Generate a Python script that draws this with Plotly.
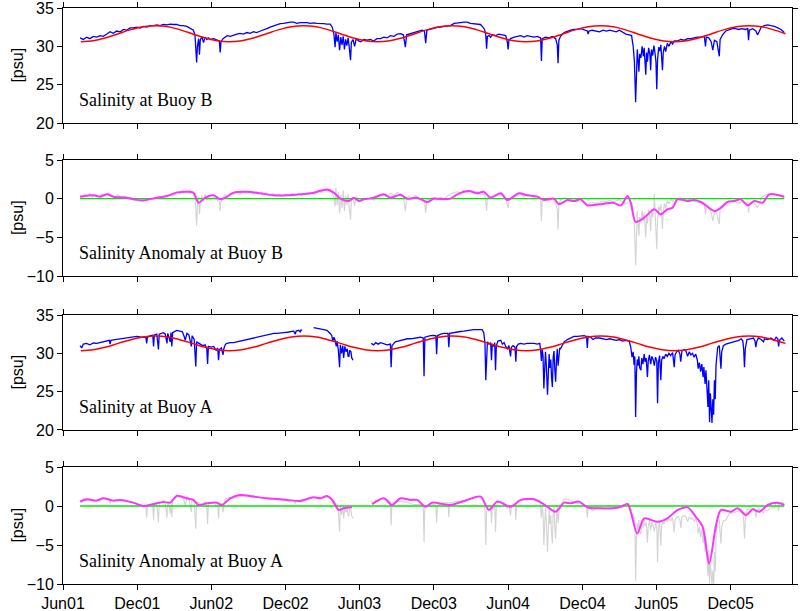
import numpy as np
import pandas as pd
import plotly.graph_objects as go

t0 = pd.Timestamp("2001-06-01")  # day 0 of all day arrays

tick_dates = pd.date_range("2001-06-01", periods=10, freq="6MS")
tick_labels = ["Jun01", "Dec01", "Jun02", "Dec02", "Jun03",
               "Dec03", "Jun04", "Dec04", "Jun05", "Dec05"]

# monthly climatology (mid-month values, Jan..Dec)
clim_b = [32.7, 32.56, 32.18, 31.65, 31.12, 30.74, 30.6, 30.74, 31.12, 31.65, 32.18, 32.56]
clim_a = [32.25, 32.12, 31.78, 31.3, 30.82, 30.48, 30.35, 30.48, 30.82, 31.3, 31.78, 32.12]

# ---- Buoy B salinity
sal_b_day = [42, 50, 58, 66, 75, 83, 91, 99, 108, 116, 124, 132, 141, 149, 157, 165, 173, 182, 190, 198,
             206, 215, 223, 231, 239, 247, 256, 264, 272, 280, 288, 296, 305, 313, 321, 325, 327, 329, 331, 334,
             336, 338, 342, 346, 350, 354, 358, 362, 371, 379, 385, 387, 389, 394, 404, 412, 420, 428, 436, 444,
             453, 461, 469, 477, 486, 494, 502, 510, 519, 527, 535, 543, 552, 560, 568, 576, 584, 592, 601, 609,
             617, 625, 634, 642, 650, 658, 663, 667, 670, 672, 675, 678, 681, 684, 687, 690, 693, 696, 699, 702,
             705, 708, 710, 714, 718, 722, 728, 733, 741, 749, 757, 765, 773, 782, 790, 798, 806, 815, 823, 831,
             838, 843, 846, 852, 860, 868, 876, 884, 890, 893, 896, 905, 913, 922, 930, 938, 946, 954, 963, 971,
             979, 987, 995, 1003, 1011, 1020, 1028, 1034, 1038, 1041, 1043, 1045, 1049, 1053, 1057, 1065, 1073, 1082, 1090, 1094,
             1096, 1098, 1102, 1111, 1119, 1127, 1135, 1143, 1151, 1160, 1168, 1176, 1178, 1180, 1188, 1196, 1205, 1213, 1217, 1219,
             1221, 1225, 1234, 1242, 1250, 1258, 1266, 1275, 1283, 1291, 1293, 1295, 1303, 1311, 1321, 1330, 1338, 1346, 1354, 1362,
             1370, 1378, 1386, 1394, 1400, 1404, 1407, 1410, 1412, 1414, 1416, 1418, 1420, 1423, 1426, 1429, 1431, 1435, 1437, 1439,
             1442, 1445, 1447, 1449, 1452, 1455, 1458, 1460, 1462, 1464, 1467, 1470, 1472, 1474, 1476, 1478, 1481, 1484, 1488, 1492,
             1497, 1501, 1505, 1513, 1521, 1530, 1538, 1546, 1554, 1562, 1571, 1579, 1582, 1584, 1590, 1596, 1600, 1604, 1610, 1614,
             1616, 1618, 1624, 1632, 1640, 1648, 1656, 1664, 1672, 1680, 1686, 1688, 1690, 1698, 1706, 1710, 1714, 1719, 1727, 1735,
             1743, 1752, 1760, 1768, 1776]
sal_b = [31.1, 30.9, 31.2, 31.0, 31.3, 31.2, 31.4, 31.3, 31.6, 31.9, 31.7, 32.0, 31.9, 32.2, 32.1, 32.4, 32.4, 32.5, 32.4, 32.6,
         32.5, 32.7, 32.7, 32.8, 32.7, 32.85, 32.8, 32.9, 32.85, 32.85, 32.7, 32.7, 32.6, 32.4, 32.1, 31.5, 29.5, 27.9, 30.0, 31.0,
         28.9, 30.8, 31.3, 30.5, 31.2, 30.9, 31.1, 30.9, 31.0, 30.8, 30.7, 29.2, 30.6, 31.0, 31.4, 31.3, 31.5, 31.6, 31.7, 31.6,
         31.8, 31.7, 31.9, 31.8, 32.0, 32.1, 32.3, 32.5, 32.7, 32.8, 32.95, 33.0, 33.1, 33.15, 33.15, 33.0, 33.1, 33.1, 33.1, 33.0,
         33.05, 33.0, 33.0, 32.95, 32.9, 32.9, 32.5, 31.6, 29.9, 31.8, 30.6, 31.5, 29.5, 31.2, 30.2, 31.3, 29.6, 30.9, 30.1, 31.1,
         29.8, 28.2, 30.5, 30.9, 30.0, 31.0, 30.7, 30.6, 30.9, 30.8, 30.9, 30.7, 31.0, 31.0, 31.2, 31.1, 31.4, 31.3, 31.6, 31.65,
         31.5, 29.9, 31.5, 31.6, 31.8, 31.9, 32.0, 32.1, 32.0, 30.4, 32.1, 32.2, 32.35, 32.5, 32.5, 32.6, 32.7, 32.7, 33.0, 33.1,
         33.1, 33.15, 33.15, 33.0, 32.95, 32.9, 32.85, 32.5, 32.2, 31.5, 29.7, 31.3, 31.4, 31.2, 31.5, 31.4, 31.6, 31.5, 31.4, 30.6,
         29.6, 30.8, 31.0, 31.2, 31.3, 31.4, 31.2, 31.4, 31.3, 31.2, 31.3, 31.1, 28.1, 31.0, 31.2, 31.1, 31.3, 31.0, 30.2, 27.8,
         30.8, 31.3, 31.8, 32.0, 32.1, 32.2, 32.2, 32.3, 32.2, 32.0, 31.6, 32.0, 32.1, 32.0, 31.9, 32.1, 32.0, 32.1, 32.0, 31.9,
         32.1, 31.8, 31.6, 31.5, 31.4, 30.0, 28.0, 22.7, 27.5, 29.6, 28.2, 26.7, 29.0, 28.5, 30.0, 28.7, 29.8, 26.3, 29.2, 28.0,
         29.8, 29.0, 26.9, 29.6, 28.8, 30.1, 29.0, 28.0, 24.4, 28.3, 29.9, 29.4, 30.2, 28.8, 26.9, 29.2, 30.0, 29.3, 30.4, 30.0,
         30.6, 30.3, 30.7, 30.7, 30.9, 30.8, 31.0, 31.0, 31.1, 31.2, 31.2, 31.3, 30.0, 31.2, 31.1, 30.6, 29.5, 30.8, 30.6, 29.5,
         28.7, 30.9, 31.5, 32.0, 32.2, 32.3, 32.3, 32.2, 32.3, 32.2, 32.3, 30.8, 32.1, 32.3, 32.0, 31.5, 31.9, 32.5, 32.7, 32.8,
         32.7, 32.6, 32.4, 32.2, 31.8]

# ---- Buoy B anomaly (raw)
anom_b_day = [42, 48, 54, 60, 66, 72, 80, 88, 96, 104, 112, 120, 128, 136, 144, 152, 160, 168, 176, 184,
              192, 200, 208, 216, 224, 232, 240, 248, 256, 264, 272, 280, 288, 296, 304, 312, 320, 325, 327, 329,
              331, 334, 336, 338, 342, 346, 350, 354, 358, 364, 370, 376, 382, 385, 387, 389, 394, 400, 406, 412,
              420, 428, 436, 444, 452, 460, 468, 476, 484, 492, 500, 508, 516, 524, 532, 540, 548, 556, 564, 572,
              580, 588, 596, 604, 612, 620, 628, 636, 644, 652, 658, 663, 667, 670, 672, 675, 678, 681, 684, 687,
              690, 693, 696, 699, 702, 705, 708, 710, 714, 718, 722, 728, 733, 741, 749, 757, 765, 773, 782, 790,
              798, 806, 815, 823, 831, 838, 843, 846, 852, 860, 868, 876, 884, 890, 893, 896, 905, 913, 922, 930,
              938, 946, 954, 963, 971, 979, 987, 995, 1003, 1011, 1020, 1028, 1034, 1038, 1041, 1043, 1045, 1049, 1053, 1057,
              1065, 1073, 1082, 1090, 1094, 1096, 1098, 1102, 1111, 1119, 1127, 1135, 1143, 1151, 1160, 1168, 1176, 1178, 1180, 1188,
              1196, 1205, 1213, 1217, 1219, 1221, 1225, 1234, 1242, 1250, 1258, 1266, 1275, 1283, 1291, 1293, 1295, 1303, 1311, 1321,
              1330, 1338, 1346, 1354, 1362, 1370, 1378, 1386, 1394, 1400, 1404, 1407, 1410, 1412, 1414, 1416, 1418, 1420, 1423, 1426,
              1429, 1431, 1435, 1437, 1439, 1442, 1445, 1447, 1449, 1452, 1455, 1456, 1458, 1460, 1462, 1464, 1467, 1470, 1472, 1474,
              1476, 1478, 1481, 1484, 1488, 1492, 1497, 1501, 1505, 1513, 1521, 1530, 1538, 1546, 1554, 1562, 1571, 1579, 1582, 1584,
              1590, 1596, 1600, 1604, 1610, 1614, 1616, 1618, 1624, 1632, 1640, 1648, 1656, 1664, 1672, 1680, 1686, 1688, 1690, 1698,
              1706, 1710, 1714, 1719, 1727, 1735, 1743, 1752, 1760, 1768, 1776]
anom_b = [0.5, 0.1, 0.6, 0.3, 0.7, 0.2, 0.5, 0.3, 0.6, 0.3, 0.8, 0.4, 0.2, 0.5, 0.1, 0.3, 0.1, 0.2, -0.2, 0.0,
          -0.3, 0.0, -0.2, 0.1, -0.1, 0.2, 0.0, 0.3, 0.2, 0.5, 0.4, 0.9, 0.7, 1.0, 0.8, 1.1, 0.7, 0.2, -1.5, -3.5,
          -1.0, 0.2, -2.0, -0.5, 0.4, -0.4, 0.6, -0.2, 0.3, -0.1, 0.2, 0.0, -0.2, -0.4, -1.6, -0.4, 0.1, 0.5, 0.2, 0.7,
          0.5, 0.9, 0.6, 0.9, 0.7, 1.0, 0.6, 0.9, 0.7, 0.5, 0.8, 0.4, 0.7, 0.5, 0.6, 0.3, 0.6, 0.4, 0.7, 0.5,
          0.6, 0.4, 0.7, 0.5, 0.8, 0.6, 1.0, 0.8, 1.2, 1.0, 1.3, 0.6, 0.2, -1.0, 1.4, -0.8, 0.9, -1.9, 0.5, -1.2,
          1.1, -1.6, 0.3, -0.8, 0.6, -1.2, -2.7, -0.4, 0.2, -0.9, 0.3, -0.2, -0.3, 0.1, -0.1, 0.1, -0.2, 0.3, 0.2, 0.5,
          0.2, 0.7, 0.4, 0.8, 0.6, 0.2, -1.6, 0.1, 0.3, 0.1, 0.4, -0.1, 0.1, -0.3, -1.8, -0.2, 0.0, 0.2, -0.1, 0.2,
          0.0, 0.3, 0.6, 0.8, 0.9, 0.7, 1.1, 0.8, 1.0, 0.7, 0.9, 0.6, 0.5, 0.6, -0.3, -1.6, 0.1, 0.3, 0.0, 0.4,
          0.5, 0.7, 0.4, 0.1, -0.8, -1.2, -0.4, 0.0, 0.3, 0.5, 0.6, 0.3, 0.6, 0.4, 0.2, 0.3, 0.0, -2.9, -0.1, 0.0,
          -0.3, -0.1, -0.6, -1.4, -4.0, -0.7, -0.2, 0.1, 0.0, -0.3, -0.2, -0.4, -0.3, -0.5, -0.7, -1.0, -0.6, -0.5, -0.6, -0.5,
          -0.3, -0.4, -0.2, -0.4, -0.3, -0.1, -0.5, -0.6, -0.5, -0.5, -1.8, -3.5, -8.6, -3.9, -1.6, -3.2, -4.8, -2.4, -3.1, -1.5,
          -2.9, -1.8, -5.0, -2.0, -3.2, -1.4, -2.3, -4.2, -1.6, -2.4, -1.1, 0.6, -2.2, -3.2, -6.5, -2.8, -1.0, -1.6, -0.7, -2.1,
          -3.9, -1.6, -0.6, -1.3, -0.2, -0.7, 0.0, -0.4, 0.0, -0.1, 0.1, -0.1, 0.0, -0.2, -0.3, -0.4, -0.6, -0.7, -2.0, -0.9,
          -1.2, -1.8, -2.9, -1.7, -2.0, -2.9, -3.3, -1.3, -0.9, -0.5, -0.4, -0.3, -0.4, -0.6, -0.4, -0.6, -0.5, -1.8, -0.6, -0.4,
          -0.8, -1.2, -0.7, 0.1, 0.4, 0.6, 0.5, 0.6, 0.4, 0.3, 0.2]

# ---- Buoy B smoothed anomaly
smooth_b_day = [42, 75, 91, 108, 124, 157, 173, 198, 223, 256, 280, 305, 321, 334, 350, 371, 387, 404, 420, 453,
                486, 519, 552, 584, 617, 650, 667, 683, 704, 716, 728, 741, 765, 790, 806, 831, 848, 872, 897, 913,
                938, 954, 971, 1000, 1020, 1036, 1053, 1078, 1094, 1123, 1143, 1168, 1184, 1209, 1221, 1242, 1258, 1275, 1291, 1321,
                1354, 1374, 1390, 1398, 1410, 1431, 1456, 1472, 1488, 1501, 1513, 1538, 1554, 1571, 1604, 1620, 1636, 1653, 1669, 1686,
                1702, 1723, 1739, 1776]
smooth_b = [0.26, 0.43, 0.26, 0.56, 0.26, 0.13, -0.09, -0.22, 0.04, 0.34, 0.78, 0.9, 0.78, -0.52, 0.13, 0.43, -0.09, 0.26, 0.78, 0.9,
            0.69, 0.43, 0.43, 0.56, 0.78, 1.2, 0.78, 0.0, -0.3, 0.13, -0.3, -0.09, 0.13, 0.56, 0.13, 0.5, 0.0, 0.13, -0.43, 0.0,
            -0.09, 0.0, 0.56, 0.99, 0.69, 0.9, 0.13, 0.69, -0.17, 0.69, 0.43, 0.26, -0.17, 0.0, -0.73, -0.17, -0.3, -0.09, -0.86, -0.73,
            -0.52, -0.86, 0.34, -0.52, -3.0, -2.46, -1.38, -2.03, -1.38, -1.16, -0.09, -0.3, -0.17, -0.43, -1.6, -1.16, -0.43, -0.3, -0.09, -0.86,
            -0.3, -0.52, 0.56, 0.26]

# ---- Buoy A salinity (None = no data)
sal_a_day = [42, 46, 50, 58, 66, 75, 83, 91, 99, 108, 114, 116, 118, 124, 132, 141, 149, 157, 165, 173,
             182, 190, 198, 204, 206, 208, 215, 221, 223, 225, 231, 235, 237, 243, 247, 252, 256, 258, 262, 264,
             266, 268, 270, 276, 280, 288, 294, 299, 301, 305, 310, 316, 318, 323, 327, 329, 334, 338, 344, 350,
             354, 356, 358, 365, 371, 377, 381, 383, 385, 390, 394, 396, 400, 404, 412, 420, 428, 436, 444, 453,
             461, 469, 477, 486, 494, 502, 510, 519, 527, 535, 543, 552, 560, 568, 572, 574, 580, 584, 586, 589,
             600, 617, 625, 634, 642, 650, 655, 658, 662, 664, 667, 670, 673, 675, 678, 681, 683, 686, 689, 691,
             694, 697, 700, 702, 704, 706, 709, 711, 714, 735, 759, 765, 770, 776, 782, 790, 798, 806, 808, 810,
             818, 825, 831, 840, 848, 856, 864, 872, 880, 887, 889, 891, 897, 905, 913, 918, 920, 922, 930, 938,
             948, 950, 952, 960, 971, 979, 987, 995, 1003, 1011, 1020, 1028, 1032, 1036, 1039, 1041, 1043, 1045, 1049, 1053,
             1055, 1057, 1061, 1063, 1065, 1067, 1071, 1078, 1082, 1086, 1090, 1094, 1098, 1102, 1104, 1108, 1113, 1115, 1117, 1121,
             1127, 1135, 1143, 1151, 1160, 1168, 1174, 1176, 1178, 1180, 1182, 1184, 1186, 1188, 1190, 1193, 1195, 1197, 1199, 1201,
             1203, 1205, 1207, 1209, 1211, 1213, 1215, 1217, 1219, 1221, 1223, 1225, 1234, 1242, 1250, 1258, 1266, 1275, 1283, 1289,
             1291, 1293, 1299, 1305, 1311, 1321, 1330, 1338, 1346, 1354, 1362, 1370, 1378, 1386, 1394, 1398, 1401, 1404, 1406, 1408,
             1410, 1412, 1414, 1416, 1418, 1420, 1423, 1425, 1428, 1431, 1433, 1436, 1439, 1441, 1444, 1447, 1450, 1453, 1456, 1459,
             1462, 1464, 1466, 1469, 1472, 1474, 1477, 1480, 1484, 1488, 1492, 1496, 1501, 1505, 1507, 1511, 1515, 1519, 1521, 1524,
             1530, 1534, 1538, 1542, 1546, 1550, 1554, 1558, 1562, 1564, 1567, 1570, 1573, 1576, 1578, 1581, 1583, 1586, 1588, 1590,
             1592, 1594, 1596, 1598, 1600, 1602, 1604, 1606, 1608, 1610, 1612, 1616, 1618, 1620, 1622, 1626, 1632, 1640, 1648, 1656,
             1664, 1670, 1674, 1676, 1678, 1680, 1684, 1692, 1700, 1704, 1706, 1708, 1712, 1719, 1725, 1727, 1735, 1743, 1751, 1756,
             1760, 1762, 1764, 1770, 1776]
sal_a = [31.0, 30.7, 31.2, 31.3, 31.1, 31.35, 31.3, 31.4, 31.5, 31.6, 31.7, 31.2, 31.7, 31.75, 31.8, 31.85, 31.9, 32.0, 32.0, 32.1,
         32.2, 32.15, 32.1, 32.1, 31.3, 32.1, 32.3, 32.35, 30.9, 32.4, 32.5, 30.5, 32.5, 32.6, 32.7, 32.5, 31.3, 32.6, 32.0, 31.5,
         32.7, 30.9, 32.7, 32.9, 33.0, 32.9, 32.8, 32.1, 31.7, 32.6, 32.4, 30.9, 32.3, 31.8, 28.3, 31.5, 31.3, 31.2, 31.0, 31.1,
         30.6, 28.6, 30.9, 30.8, 30.9, 30.4, 30.7, 29.1, 30.5, 30.7, 29.8, 30.6, 31.2, 31.3, 31.4, 31.4, 31.5, 31.5, 31.6, 31.8,
         31.9, 32.0, 32.1, 32.2, 32.3, 32.4, 32.5, 32.6, 32.6, 32.7, 32.7, 32.75, 32.8, 32.9, 32.5, 32.9, 33.0, 32.8, 33.05, 33.0,
         None, 33.35, 33.3, 33.2, 33.1, 33.0, 32.8, 32.6, 32.3, 31.6, 32.1, 31.7, 30.9, 31.6, 30.4, 28.2, 31.1, 30.0, 31.0, 29.4,
         30.9, 30.2, 30.6, 29.6, 29.6, 30.4, 30.2, 29.4, 29.1, None, 31.3, 31.1, 31.4, 31.2, 31.4, 31.3, 31.1, 31.2, 28.2, 31.0,
         31.5, 31.6, 31.7, 31.8, 31.9, 31.9, 31.95, 32.0, 32.1, 32.0, 27.0, 32.1, 32.2, 32.3, 32.35, 32.3, 29.9, 32.3, 32.5, 32.6,
         32.6, 30.8, 32.6, 32.7, 32.8, 32.85, 32.9, 33.0, 33.05, 33.1, 33.1, 33.15, 33.1, 32.7, 31.3, 26.5, 30.5, 31.5, 31.2, 31.4,
         29.1, 31.2, 30.9, 31.4, 27.8, 31.0, 31.6, 31.7, 31.2, 31.4, 30.9, 30.6, 31.0, 29.6, 30.8, 31.0, 30.8, 28.9, 30.9, 31.2,
         31.3, 31.2, 31.3, 31.3, 31.3, 31.2, 31.3, 30.4, 29.0, 30.5, 29.6, 25.4, 28.8, 30.2, 28.5, 24.6, 27.3, 29.9, 28.1, 29.2,
         26.8, 25.6, 29.5, 30.3, 27.9, 26.3, 29.0, 30.6, 28.4, 30.0, 30.7, 30.6, 31.5, 31.8, 32.0, 32.2, 32.2, 32.3, 32.3, 32.2,
         30.7, 32.2, 32.1, 31.8, 32.0, 32.0, 31.9, 31.8, 31.9, 31.8, 31.7, 31.8, 31.6, 31.7, 31.6, 30.8, 29.5, 30.2, 28.5, 29.6,
         21.7, 27.5, 29.2, 28.4, 29.6, 28.1, 27.8, 29.4, 28.6, 29.9, 28.9, 29.4, 26.9, 29.0, 29.8, 28.6, 29.6, 29.2, 28.4, 29.5,
         29.0, 23.5, 28.8, 29.7, 26.5, 29.1, 29.6, 29.3, 29.9, 29.6, 30.0, 29.7, 30.1, 28.2, 29.8, 30.2, 30.4, 29.9, 28.9, 30.3,
         30.5, 30.3, 29.6, 30.2, 29.8, 30.0, 29.5, 29.9, 29.1, 28.0, 28.8, 27.6, 28.6, 26.9, 28.2, 26.0, 27.8, 25.1, 23.0, 26.5,
         21.0, 24.8, 22.5, 20.9, 24.0, 22.0, 26.5, 24.0, 28.5, 30.6, 30.8, 31.0, 29.4, 28.0, 30.2, 31.0, 31.2, 31.3, 31.4, 31.5,
         31.7, 31.9, 31.6, 30.5, 28.2, 30.6, 31.8, 31.9, 32.0, 31.6, 30.8, 31.5, 32.0, 31.8, 31.5, 31.9, 31.8, 32.0, 31.7, 32.1,
         31.9, 30.9, 31.7, 32.0, 31.6]

# ---- Buoy A anomaly (raw), same sampling days as the salinity record
anom_a_day = sal_a_day
anom_a = [0.8, 0.4, 1.0, 0.7, 0.9, 0.6, 0.8, 0.6, 1.0, 0.8, 0.9, 0.3, 0.8, 0.6, 0.8, 0.7, 0.8, 0.6, 0.5, 0.4,
          0.3, 0.1, -0.1, 0.0, -1.5, 0.1, 0.2, 0.1, -1.8, 0.2, 0.3, -2.1, 0.3, 0.5, 0.5, 0.3, -1.5, 0.4, 0.0, -1.0,
          0.6, -1.4, 0.7, 1.2, 1.4, 1.2, 1.3, 0.5, 0.0, 1.2, 1.0, -0.8, 1.0, 0.6, -2.9, 0.5, 0.4, 0.4, 0.2, 0.5,
          0.0, -2.3, 0.3, 0.4, 0.5, 0.0, 0.3, -1.6, 0.1, 0.3, -0.8, 0.2, 0.9, 1.0, 1.1, 1.0, 1.1, 1.2, 1.3, 1.3,
          1.4, 1.3, 1.2, 1.1, 1.0, 1.0, 0.9, 0.9, 0.8, 0.8, 0.7, 0.8, 0.7, 0.7, 0.3, 0.7, 0.7, 0.5, 0.8, 0.7,
          None, 1.1, 1.1, 1.0, 1.1, 1.2, 1.1, 1.0, 0.9, 0.2, 0.8, 0.5, -0.3, 0.4, -0.8, -3.3, 0.0, -1.1, -0.1, -1.6,
          -0.2, -0.8, -0.3, -1.3, -1.2, -0.4, -0.5, -1.3, -1.6, None, 0.6, 0.4, 0.8, 0.6, 1.0, 1.0, 0.8, 0.6, -2.5, 0.3,
          0.6, 0.6, 0.6, 0.5, 0.5, 0.3, 0.2, 0.2, 0.2, 0.0, -4.6, 0.1, 0.1, 0.1, 0.2, 0.1, -2.1, 0.1, 0.3, 0.4,
          0.4, -1.4, 0.4, 0.5, 0.6, 0.6, 0.7, 0.8, 0.9, 1.0, 1.1, 1.2, 1.1, 0.9, -0.4, -5.0, -1.0, 0.1, -0.2, 0.1,
          -2.2, 0.0, -0.3, 0.3, -3.3, -0.1, 0.6, 0.7, 0.3, 0.5, 0.0, -0.3, 0.2, -1.2, 0.0, 0.3, 0.1, -1.8, 0.2, 0.6,
          0.8, 0.8, 0.9, 1.0, 0.9, 0.7, 0.8, 0.0, -1.5, 0.0, -0.9, -5.0, -1.6, -0.2, -1.9, -5.9, -3.1, -0.5, -2.3, -1.2,
          -3.6, -4.8, -0.9, -0.1, -2.6, -4.2, -1.5, 0.1, -2.2, -0.5, 0.2, 0.1, 0.9, 0.9, 0.7, 0.6, 0.3, 0.3, 0.2, 0.0,
          -1.5, -0.1, -0.3, -0.6, -0.3, -0.2, -0.2, -0.3, -0.1, -0.2, -0.2, 0.0, -0.1, 0.2, 0.3, -0.3, -1.5, -0.9, -2.5, -1.4,
          -9.6, -3.8, -2.2, -3.0, -1.8, -3.3, -3.6, -2.0, -2.8, -1.5, -2.6, -2.1, -4.7, -2.6, -1.9, -3.1, -2.1, -2.5, -3.3, -2.2,
          -2.7, -7.2, -2.9, -2.0, -5.1, -2.5, -2.0, -2.3, -1.7, -2.0, -1.6, -1.9, -1.5, -3.4, -1.8, -1.4, -1.3, -1.8, -2.8, -1.4,
          -1.2, -1.4, -2.0, -1.4, -1.7, -1.5, -2.0, -1.6, -2.4, -3.5, -2.7, -4.0, -3.0, -4.8, -3.6, -5.9, -4.1, -6.9, -9.0, -5.6,
          -10.0, -7.4, -9.7, -10.0, -8.3, -10.0, -5.9, -8.4, -4.0, -2.0, -1.9, -1.8, -3.4, -4.8, -2.7, -1.9, -1.8, -1.0, -0.9, -0.8,
          -0.6, -0.4, -0.8, -1.9, -4.2, -1.8, -0.5, -0.4, -0.3, -0.7, -1.5, -0.8, -0.3, -0.6, -0.9, -0.5, -0.6, -0.2, -0.3, 0.4,
          0.3, -0.6, 0.2, 0.5, 0.2]

# ---- Buoy A smoothed anomaly (None = no data)
smooth_a_day = [42, 58, 83, 99, 124, 141, 173, 198, 223, 247, 264, 280, 305, 321, 334, 354, 379, 391, 412, 436,
                469, 502, 552, 584, 617, 634, 650, 663, 679, 691, 712, 735, 761, 790, 810, 831, 856, 872,
                893, 909, 954, 995, 1028, 1049, 1069, 1102, 1127, 1160, 1184, 1213, 1234, 1250, 1271, 1291, 1321, 1354, 1374, 1390,
                1414, 1431, 1464, 1488, 1513, 1538, 1558, 1575, 1591, 1608, 1620, 1645, 1661, 1682, 1698, 1715, 1735, 1760, 1776]
smooth_a = [0.56, 0.86, 0.69, 0.99, 0.69, 0.78, 0.43, 0.0, 0.26, 0.52, 0.43, 1.29, 0.99, 0.78, 0.13, 0.34, 0.43, 0.13, 0.99, 1.42,
            1.21, 0.99, 0.78, 0.65, 1.12, 0.99, 1.29, 0.78, -0.52, -0.3, -0.17, None, 0.22, 0.99, 0.13, 0.99, 0.78, 0.78,
            -0.09, 0.43, 0.13, 0.78, 1.21, -0.52, 0.56, -0.09, 0.78, 0.86, 0.22, -0.73, 0.43, 0.34, 0.56, -0.17, -0.3, -0.3, -0.09, 0.26,
            -3.53, -1.59, -2.03, -1.59, -0.52, -0.17, -1.38, -2.67, -7.41, -2.46, -0.52, -0.73, -0.3, -1.16, -0.43, -0.73, 0.13, 0.43, 0.13]


def days_to_dates(days):
    return t0 + pd.to_timedelta(np.asarray(days, dtype=float), unit="D")


clim_dates = pd.date_range("2001-07-01", "2006-04-01", freq="MS") + pd.Timedelta(days=14)
clim_b_series = [clim_b[d.month - 1] for d in clim_dates]
clim_a_series = [clim_a[d.month - 1] for d in clim_dates]

fig = go.Figure()

panels = [
    (1, sal_b_day, sal_b, None, None, clim_b_series),
    (2, anom_b_day, anom_b, smooth_b_day, smooth_b, None),
    (3, sal_a_day, sal_a, None, None, clim_a_series),
    (4, anom_a_day, anom_a, smooth_a_day, smooth_a, None),
]

for k, day, val, sday, sval, clim in panels:
    xa = "x" if k == 1 else f"x{k}"
    ya = "y" if k == 1 else f"y{k}"
    if clim is not None:
        fig.add_trace(go.Scatter(x=days_to_dates(day), y=val, mode="lines",
                                 line=dict(color="#0000ff", width=1.3),
                                 xaxis=xa, yaxis=ya, showlegend=False))
        fig.add_trace(go.Scatter(x=clim_dates, y=clim, mode="lines",
                                 line=dict(color="#ff0000", width=1.5, shape="spline"),
                                 xaxis=xa, yaxis=ya, showlegend=False))
    else:
        fig.add_trace(go.Scatter(x=days_to_dates(day), y=val, mode="lines",
                                 line=dict(color="#d3d3d3", width=1.1),
                                 xaxis=xa, yaxis=ya, showlegend=False))
        fig.add_trace(go.Scatter(x=days_to_dates([day[0], day[-1]]), y=[0, 0], mode="lines",
                                 line=dict(color="#00e600", width=1.3),
                                 xaxis=xa, yaxis=ya, showlegend=False))
        fig.add_trace(go.Scatter(x=days_to_dates(sday), y=sval, mode="lines",
                                 line=dict(color="#ff33ff", width=2, shape="spline", smoothing=0.8),
                                 xaxis=xa, yaxis=ya, showlegend=False))

tickfont = dict(family="Liberation Sans, Arial, sans-serif", size=16, color="black")
base_ax = dict(showline=True, linecolor="black", linewidth=1, mirror="ticks",
               ticks="outside", ticklen=5, tickcolor="black", showgrid=False,
               zeroline=False, automargin=False, ticklabeloverflow="allow",
               tickfont=tickfont)

domains = [[0.8003, 1.0], [0.5347, 0.7361], [0.2674, 0.467], [0.0, 0.2031]]
yranges = [[20, 35], [-10, 5], [20, 35], [-10, 5]]
yticks = [[20, 25, 30, 35], [-10, -5, 0, 5], [20, 25, 30, 35], [-10, -5, 0, 5]]
titles = ["Salinity at Buoy B", "Salinity Anomaly at Buoy B",
          "Salinity at Buoy A", "Salinity Anomaly at Buoy A"]

layout = dict(width=800, height=611, margin=dict(l=63, r=8, t=8, b=27),
              paper_bgcolor="white", plot_bgcolor="white", showlegend=False)
annotations = []
for k in range(1, 5):
    xs = "xaxis" if k == 1 else f"xaxis{k}"
    ys = "yaxis" if k == 1 else f"yaxis{k}"
    yref = "y" if k == 1 else f"y{k}"
    layout[xs] = dict(base_ax, domain=[0, 1], anchor=yref,
                      range=["2001-06-01", "2006-05-01"],
                      tickvals=tick_dates, ticktext=tick_labels,
                      showticklabels=(k == 4))
    if k > 1:
        layout[xs]["matches"] = "x"
    layout[ys] = dict(base_ax, domain=domains[k - 1], anchor="x" if k == 1 else f"x{k}",
                      range=yranges[k - 1], tickvals=yticks[k - 1])
    annotations.append(dict(text=titles[k - 1], xref="paper", yref=f"{yref} domain",
                            x=0.0192, y=0.2, xanchor="left", yanchor="middle", showarrow=False,
                            font=dict(family="Liberation Serif, Times New Roman, serif", size=18, color="black")))
    annotations.append(dict(text="[psu]", xref="paper", yref=f"{yref} domain",
                            x=-0.063, y=0.5, xanchor="center", yanchor="middle", showarrow=False,
                            textangle=-90, font=dict(family="Liberation Sans, Arial, sans-serif", size=16, color="black")))
layout["annotations"] = annotations
fig.update_layout(**layout)

# the page body has a default 8px margin; drop it so the figure sits at the window origin
fig.write_html("out.html", config={"displayModeBar": False},
               post_script="document.body.style.margin = '0';")
